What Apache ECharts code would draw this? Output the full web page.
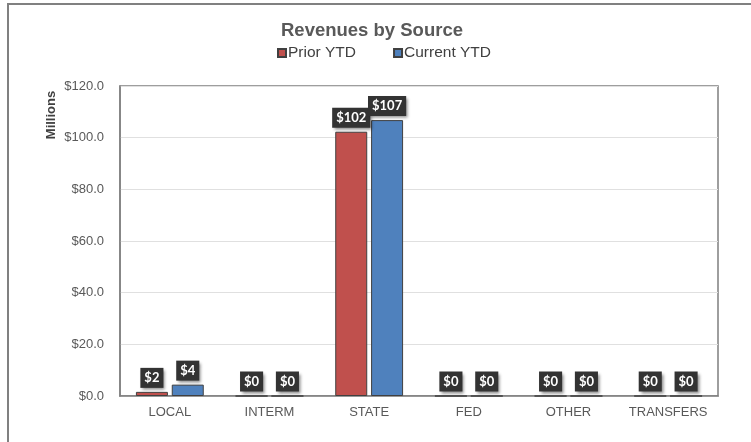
<!DOCTYPE html>
<html>
<head>
<meta charset="utf-8">
<script src="https://cdn.jsdelivr.net/npm/echarts@6/dist/echarts.min.js"></script>
<style>
  html, body { margin: 0; padding: 0; background: #fff; }
  #chart { width: 751px; height: 442px; }
</style>
</head>
<body>
<div id="chart"></div>
<script>
// Revenue sources (millions of dollars)
const categories = ['LOCAL', 'INTERM', 'STATE', 'FED', 'OTHER', 'TRANSFERS'];
const priorYTD = [1.6, 0, 102.3, 0, 0, 0];
const currentYTD = [4.4, 0, 106.8, 0, 0, 0];
const yTicks = { min: 0, max: 120, interval: 20 };

const chart = echarts.init(document.getElementById('chart'), null, { renderer: 'canvas' });

const valueLabel = {
  show: true,
  position: 'top',
  distance: 4,
  formatter: p => '$' + Math.round(p.value),
  color: '#ffffff',
  fontFamily: 'Lato',
  fontWeight: 'bold',
  fontSize: 13,
  lineHeight: 14,
  backgroundColor: '#333333',
  padding: [3, 4, 3, 4],
  shadowColor: 'rgba(0,0,0,0.45)',
  shadowBlur: 3,
  shadowOffsetX: 2,
  shadowOffsetY: 2
};

chart.setOption({
  backgroundColor: '#ffffff',
  animation: false,
  title: {
    text: 'Revenues by Source',
    left: 276,
    top: 16,
    textStyle: { fontFamily: 'Liberation Sans', fontSize: 18.5, fontWeight: 'bold', color: '#595959' }
  },
  legend: {
    left: 272,
    top: 40,
    itemWidth: 8,
    itemHeight: 8,
    itemGap: 37,
    icon: 'rect',
    textStyle: { fontFamily: 'Liberation Sans', fontSize: 15.5, color: '#404040', padding: [0, 0, 0, -3] },
    data: ['Prior YTD', 'Current YTD']
  },
  graphic: [
    {
      type: 'rect',
      shape: { x: 8, y: 4, width: 800, height: 500 },
      style: { fill: 'none', stroke: '#808080', lineWidth: 2 },
      silent: true
    },
    {
      type: 'text',
      x: 51,
      y: 115,
      rotation: Math.PI / 2,
      style: {
        text: 'Millions',
        fontFamily: 'Liberation Sans',
        fontSize: 13,
        fontWeight: 'bold',
        fill: '#404040',
        align: 'center',
        verticalAlign: 'middle'
      }
    }
  ],
  grid: {
    left: 120,
    right: 33,
    top: 86,
    bottom: 46,
    show: true,
    borderColor: '#7f7f7f',
    borderWidth: 1.5
  },
  xAxis: {
    type: 'category',
    data: categories,
    axisLine: { lineStyle: { color: '#7f7f7f', width: 1.5 } },
    axisTick: { show: false },
    axisLabel: { interval: 0, fontFamily: 'Liberation Sans', fontSize: 13, color: '#595959', margin: 10 }
  },
  yAxis: {
    type: 'value',
    min: yTicks.min,
    max: yTicks.max,
    interval: yTicks.interval,
    axisLine: { show: true, lineStyle: { color: '#7f7f7f', width: 1.5 } },
    axisTick: { show: false },
    splitLine: { lineStyle: { color: '#e0e0e0', width: 1 } },
    axisLabel: {
      fontFamily: 'Liberation Sans',
      fontSize: 13,
      color: '#595959',
      margin: 16,
      formatter: v => '$' + v.toFixed(1)
    }
  },
  series: [
    {
      name: 'Prior YTD',
      type: 'bar',
      data: priorYTD,
      barWidth: 32,
      barGap: '12%',
      itemStyle: { color: '#C0504D', borderColor: '#404040', borderWidth: 1 },
      label: valueLabel
    },
    {
      name: 'Current YTD',
      type: 'bar',
      data: currentYTD,
      barWidth: 32,
      barGap: '12%',
      itemStyle: { color: '#4F81BD', borderColor: '#404040', borderWidth: 1 },
      label: valueLabel
    }
  ]
});
</script>
</body>
</html>
